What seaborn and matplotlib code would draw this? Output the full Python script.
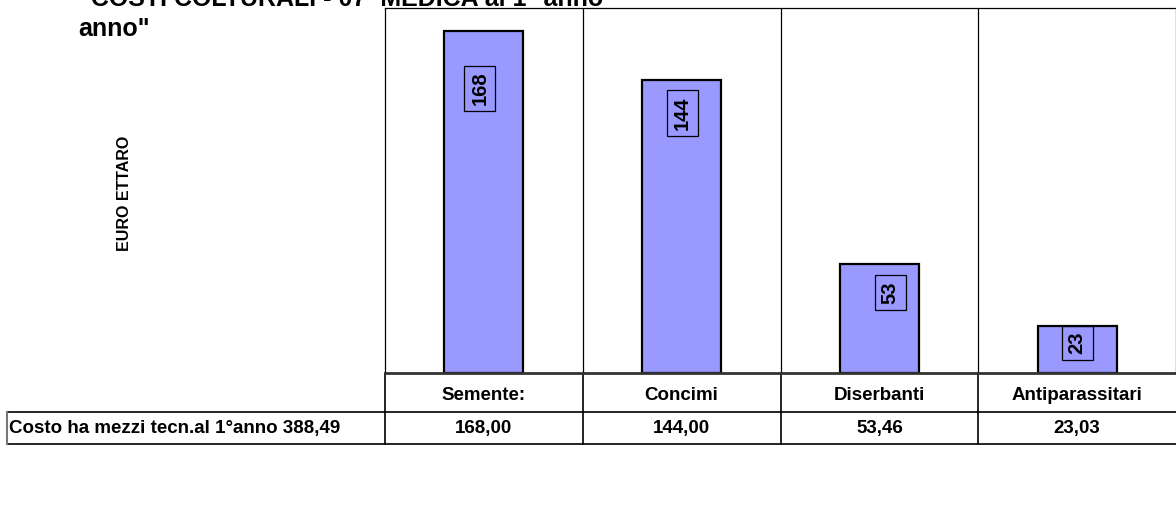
import matplotlib
matplotlib.use("Agg")
import matplotlib.pyplot as plt
import matplotlib.transforms as mtransforms
import seaborn as sns
import pandas as pd

# data
categories = ["Semente:", "Concimi", "Diserbanti", "Antiparassitari"]
costs = [168.00, 144.00, 53.46, 23.03]
title_lines = ['"COSTI COLTURALI - 07  MEDICA al 1° anno', 'anno"']
ylabel = "EURO ETTARO"
row_label = "Costo ha mezzi tecn.al 1°anno"

# label placement (style only): offset of the value box from the bar top, in px
label_drop_px = [57, 33, 28, 17]
label_shift_px = [-4, 1, 11, 0]


def it_num(v):
    return f"{v:.2f}".replace(".", ",")


sns.set_style("white")
plt.rcParams["font.family"] = ["Liberation Sans", "DejaVu Sans"]
plt.rcParams["font.weight"] = "bold"
plt.rcParams["text.color"] = "black"

df = pd.DataFrame({"cat": categories, "cost": costs})

fig = plt.figure(figsize=(11.76, 5.12), dpi=100)
W, H = 1176, 512
ax = fig.add_axes([385 / W, 1 - 373 / H, 791 / W, 365 / H])

sns.barplot(data=df, x="cat", y="cost", color="#9999FF", saturation=1,
            width=0.4, edgecolor="black", linewidth=1.6, ax=ax)

ax.set_ylim(0, 179.5)
ax.set_xlim(-0.5, len(categories) - 0.5)
ax.set_xticks([])
ax.set_yticks([])
ax.set_xlabel("")
ax.set_ylabel("")
for s in ["left", "top", "right"]:
    ax.spines[s].set_linewidth(0.9)
    ax.spines[s].set_color("black")
ax.spines["bottom"].set_linewidth(2)
ax.spines["bottom"].set_color("#333333")

# vertical separators between categories
for i in range(len(categories) - 1):
    ax.axvline(i + 0.5, color="black", lw=0.9)

# value boxes inside the bars
for i, v in enumerate(costs):
    ax.annotate(f"{round(v):d}", xy=(i, v),
                xytext=(label_shift_px[i] * 0.72, -label_drop_px[i] * 0.72),
                textcoords="offset points", rotation=90, ha="center", va="center",
                fontsize=14.5, fontweight="bold", color="black",
                bbox=dict(boxstyle="square,pad=0.3", fc="none", ec="black", lw=0.9))

# data table under the chart
trans = mtransforms.blended_transform_factory(ax.transData, ax.transAxes)
r1 = -39 / 365
r2 = -71 / 365
left_x = -0.5 - 378 / (791 / len(categories))
right_x = len(categories) - 0.5
lk = dict(color="black", lw=1.2, transform=trans, clip_on=False)
ax.plot([-0.5, right_x], [r1, r1], **lk)
ax.plot([left_x, right_x], [r2, r2], **lk)
ax.plot([left_x, -0.5], [r1, r1], **lk)
ax.plot([left_x, left_x], [r1, r2], color="#777777", lw=1.5, transform=trans, clip_on=False)
for i in range(len(categories)):
    ax.plot([i - 0.5, i - 0.5], [0, r2], **lk)
for i, c in enumerate(categories):
    ax.text(i, r1 / 2 - 0.008, c, transform=trans, ha="center", va="center",
            fontsize=13.5, fontweight="bold")
    ax.text(i, (r1 + r2) / 2, it_num(costs[i]), transform=trans,
            ha="center", va="center", fontsize=13.5, fontweight="bold")
total = sum(costs)
ax.text(left_x + 0.012, (r1 + r2) / 2, f"{row_label} {it_num(total)}",
        transform=trans, ha="left", va="center", fontsize=13.5, fontweight="bold")

# title and axis label
fig.text(79 / W, 1 - 6 / H, title_lines[0], ha="left", va="baseline",
         fontsize=18, fontweight="bold")
fig.text(78 / W, 1 - 36 / H, title_lines[1], ha="left", va="baseline",
         fontsize=18, fontweight="bold")
fig.text(125 / W, 1 - 193 / H, ylabel, rotation=90, ha="center", va="center",
         fontsize=11.5, fontweight="bold")

fig.savefig("out.png", dpi=100)
